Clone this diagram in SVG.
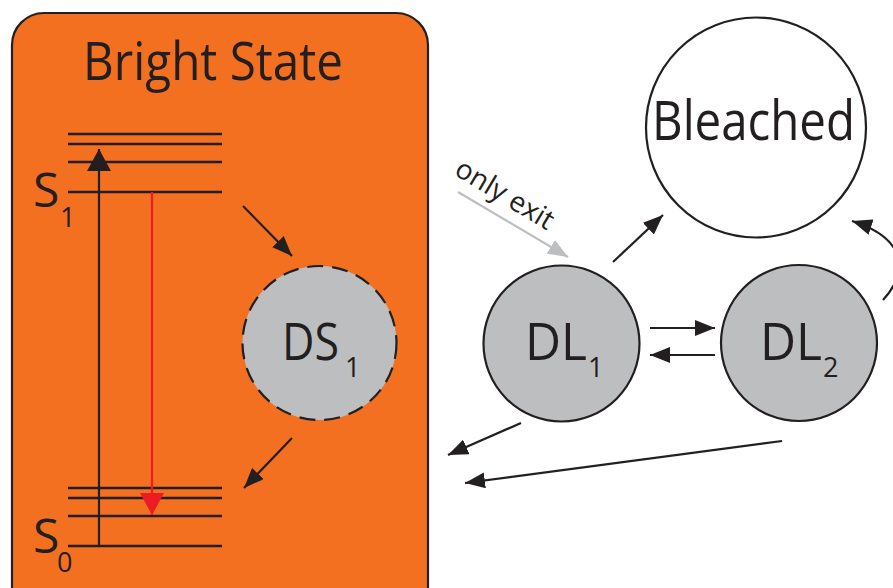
<svg xmlns="http://www.w3.org/2000/svg" width="893" height="588" viewBox="0 0 893 588">
  <style>
    text { font-family: "Open Sans", "Noto Sans", "Liberation Sans", sans-serif; font-weight: 500; fill: #231f20; }
    .lvl { stroke: #231f20; stroke-width: 2.5; }
    .conn { stroke: #231f20; stroke-width: 2.2; fill: none; marker-end: url(#ah); }
    .node { stroke: #231f20; stroke-width: 2.2; }
  </style>
  <defs>
    <marker id="ah" viewBox="0 0 20 16" refX="20" refY="8" markerWidth="20" markerHeight="16" orient="auto" markerUnits="userSpaceOnUse">
      <path d="M0,0 L20,8 L0,16 z" fill="#231f20"/>
    </marker>
    <marker id="ahBig" viewBox="0 0 22 24" refX="22" refY="12" markerWidth="22" markerHeight="24" orient="auto" markerUnits="userSpaceOnUse">
      <path d="M0,0 L22,12 L0,24 z" fill="#231f20"/>
    </marker>
    <marker id="ahRed" viewBox="0 0 22 24" refX="22" refY="12" markerWidth="22" markerHeight="24" orient="auto" markerUnits="userSpaceOnUse">
      <path d="M0,0 L22,12 L0,24 z" fill="#ed1c24"/>
    </marker>
    <marker id="ahGrey" viewBox="0 0 20 16" refX="20" refY="8" markerWidth="20" markerHeight="16" orient="auto" markerUnits="userSpaceOnUse">
      <path d="M0,0 L20,8 L0,16 z" fill="#bcbec0"/>
    </marker>
  </defs>

  <rect width="893" height="588" fill="#ffffff"/>

  <!-- Bright state panel -->
  <g id="bright-state">
    <rect x="12" y="13" width="416" height="620" rx="32" ry="32" fill="#f37021" stroke="#231f20" stroke-width="2.2"/>
    <text x="83" y="80" font-size="53" textLength="260" lengthAdjust="spacingAndGlyphs">Bright State</text>

    <!-- S1 manifold -->
    <line class="lvl" x1="68" y1="134" x2="222" y2="134"/>
    <line class="lvl" x1="68" y1="144" x2="222" y2="144"/>
    <line class="lvl" x1="68" y1="162" x2="222" y2="162"/>
    <line class="lvl" x1="68" y1="192" x2="222" y2="192"/>
    <text x="33" y="207" font-size="48">S</text>
    <text x="60" y="227" font-size="27">1</text>

    <!-- S0 manifold -->
    <line class="lvl" x1="68" y1="488" x2="222" y2="488"/>
    <line class="lvl" x1="68" y1="498" x2="222" y2="498"/>
    <line class="lvl" x1="68" y1="516" x2="222" y2="516"/>
    <line class="lvl" x1="68" y1="546" x2="222" y2="546"/>
    <text x="33" y="553" font-size="48">S</text>
    <text x="57" y="572" font-size="27">0</text>

    <!-- excitation and emission -->
    <line x1="99" y1="546" x2="99" y2="149" stroke="#231f20" stroke-width="2.2" marker-end="url(#ahBig)"/>
    <line x1="152" y1="192" x2="152" y2="515" stroke="#ed1c24" stroke-width="2.2" marker-end="url(#ahRed)"/>
  </g>

  <!-- Dark state DS1 -->
  <g id="ds1">
    <circle cx="319.5" cy="343" r="77" fill="#bcbec0" stroke="#231f20" stroke-width="2.2" stroke-dasharray="16 9"/>
    <text x="282" y="360" font-size="51" textLength="57" lengthAdjust="spacingAndGlyphs">DS</text>
    <text x="345" y="377" font-size="27">1</text>
  </g>

  <!-- Bleached -->
  <g id="bleached">
    <circle cx="756" cy="127.5" r="110" fill="#ffffff" class="node"/>
    <text x="652" y="140" font-size="55" textLength="203" lengthAdjust="spacingAndGlyphs">Bleached</text>
  </g>

  <!-- DL1 -->
  <g id="dl1">
    <circle cx="561.5" cy="343.5" r="78" fill="#bcbec0" class="node"/>
    <text x="525" y="360" font-size="51" textLength="62" lengthAdjust="spacingAndGlyphs">DL</text>
    <text x="588" y="377" font-size="27">1</text>
  </g>

  <!-- DL2 -->
  <g id="dl2">
    <circle cx="799" cy="343" r="78" fill="#bcbec0" class="node"/>
    <text x="760" y="360" font-size="51" textLength="62" lengthAdjust="spacingAndGlyphs">DL</text>
    <text x="823" y="377" font-size="27">2</text>
  </g>

  <!-- only exit label -->
  <text x="0" y="0" font-size="28" transform="translate(453,174) rotate(31)">only exit</text>

  <!-- connectors -->
  <g id="connectors">
    <line class="conn" x1="243" y1="206" x2="292" y2="256"/>
    <line class="conn" x1="292" y1="438" x2="244" y2="488"/>
    <line x1="458" y1="192" x2="568" y2="257" stroke="#bcbec0" stroke-width="2.2" marker-end="url(#ahGrey)"/>
    <line class="conn" x1="613" y1="262" x2="663" y2="215"/>
    <line class="conn" x1="650" y1="328" x2="715" y2="328"/>
    <line class="conn" x1="715" y1="355" x2="650" y2="355"/>
    <line class="conn" x1="521" y1="423" x2="448" y2="455"/>
    <line class="conn" x1="782" y1="441" x2="465" y2="483"/>
    <path class="conn" d="M883,300 C910,270 905,238 852,221"/>
  </g>
</svg>
